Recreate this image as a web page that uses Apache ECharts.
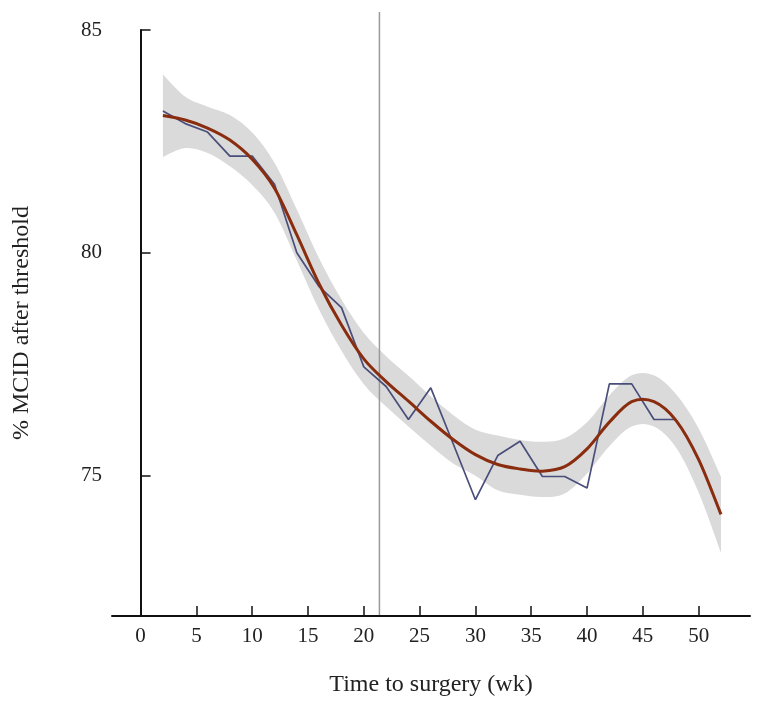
<!DOCTYPE html>
<html>
<head>
<meta charset="utf-8">
<title>% MCID after threshold</title>
<script src="https://cdn.jsdelivr.net/npm/echarts@6/dist/echarts.min.js"></script>
<style>
    html, body {margin: 0; padding: 0; background: #fff;}
    #main {width: 764px; height: 707px;}
</style>
</head>
<body>
<div id="main"></div>
<script>
// observed % MCID, every 2 weeks
var weeks = [2, 4, 6, 8, 10, 12, 14, 16, 18, 20, 22, 24, 26, 28, 30, 32, 34, 36, 38, 40, 42, 44, 46, 48];
var mcid = [83.18, 82.9, 82.71, 82.17, 82.17, 81.54, 80.0, 79.24, 78.77, 77.44, 77.0, 76.26,
    76.97, 75.72, 74.46, 75.45, 75.77, 74.98, 74.98, 74.72, 77.06, 77.06, 76.26, 76.26];

// fitted curve + confidence band
var fitWeeks = [2, 4, 6, 8, 10, 12, 14, 16, 18, 20, 22, 24, 26, 28, 30, 32, 34, 36, 38, 40, 42, 44, 46, 48, 50, 52];
var fit = [83.08, 82.98, 82.8, 82.53, 82.1, 81.45, 80.4, 79.3, 78.38, 77.62, 77.11, 76.67, 76.22,
    75.81, 75.47, 75.25, 75.15, 75.1, 75.2, 75.6, 76.2, 76.66, 76.66, 76.23, 75.36, 74.13];
var bandLow = [82.15, 82.35, 82.24, 81.94, 81.52, 80.9, 79.83, 78.72, 77.8, 77.05, 76.55, 76.1, 75.67,
    75.27, 75.0, 74.67, 74.57, 74.52, 74.6, 75.05, 75.66, 76.1, 76.1, 75.62, 74.62, 73.27];
var bandHigh = [84.0, 83.5, 83.28, 83.09, 82.7, 82.02, 80.97, 79.87, 78.95, 78.2, 77.68, 77.24, 76.78,
    76.36, 76.03, 75.9, 75.8, 75.76, 75.84, 76.2, 76.8, 77.25, 77.25, 76.82, 76.06, 74.98];

var surgeryLine = 21.4;
var xTicks = [0, 5, 10, 15, 20, 25, 30, 35, 40, 45, 50];
var yTicks = [75, 80, 85];

var font = '"Liberation Serif", "DejaVu Serif", serif';

function pairs(xs, ys) {
    var out = [];
    for (var i = 0; i < xs.length; i++) {
        out.push([xs[i], ys[i]]);
    }
    return out;
}

// catmull-rom through pixel points -> bezier path pieces
function curveThrough(p) {
    var d = '';
    for (var i = 0; i < p.length - 1; i++) {
        var p0 = p[i - 1] || p[i], p1 = p[i], p2 = p[i + 1], p3 = p[i + 2] || p2;
        var c1 = [p1[0] + (p2[0] - p0[0]) / 6, p1[1] + (p2[1] - p0[1]) / 6];
        var c2 = [p2[0] - (p3[0] - p1[0]) / 6, p2[1] - (p3[1] - p1[1]) / 6];
        d += ' C' + c1[0] + ',' + c1[1] + ' ' + c2[0] + ',' + c2[1] + ' ' + p2[0] + ',' + p2[1];
    }
    return d;
}

function renderBand(params, api) {
    var up = [], low = [];
    for (var i = 0; i < fitWeeks.length; i++) {
        up.push(api.coord([fitWeeks[i], bandHigh[i]]));
        low.unshift(api.coord([fitWeeks[i], bandLow[i]]));
    }
    var d = 'M' + up[0][0] + ',' + up[0][1] + curveThrough(up)
        + ' L' + low[0][0] + ',' + low[0][1] + curveThrough(low) + ' Z';
    return {
        type: 'path',
        shape: {pathData: d},
        style: {fill: '#dadada'}
    };
}

function renderFit(params, api) {
    var pts = [];
    for (var i = 0; i < fitWeeks.length; i++) {
        pts.push(api.coord([fitWeeks[i], fit[i]]));
    }
    return {
        type: 'path',
        shape: {pathData: 'M' + pts[0][0] + ',' + pts[0][1] + curveThrough(pts)},
        style: {fill: null, stroke: '#8a2c0e', lineWidth: 3, lineJoin: 'round'}
    };
}

var chart = echarts.init(document.getElementById('main'));
chart.setOption({
    animation: false,
    grid: [
        {left: 112, right: 14, top: 30, bottom: 91, outerBoundsMode: 'none'},
        {left: 112, right: 14, top: 12, bottom: 91, outerBoundsMode: 'none'}   // only for the vertical line
    ],
    xAxis: [{
        type: 'value',
        gridIndex: 0,
        min: -2.56,
        max: 54.6,
        z: 10,
        name: 'Time to surgery (wk)',
        nameLocation: 'middle',
        nameGap: 57,
        nameTextStyle: {fontFamily: font, fontSize: 24, color: '#222'},
        splitLine: {show: false},
        axisLine: {lineStyle: {color: '#111', width: 2}},
        axisTick: {inside: true, length: 10, customValues: xTicks, lineStyle: {color: '#111', width: 1.5}},
        axisLabel: {customValues: xTicks, margin: 10, fontFamily: font, fontSize: 21, color: '#222'}
    }, {
        type: 'value',
        gridIndex: 1,
        min: -2.56,
        max: 54.6,
        show: false
    }],
    yAxis: [{
        type: 'value',
        gridIndex: 0,
        min: 71.85,
        max: 85,
        z: 10,
        name: '% MCID after threshold',
        nameLocation: 'middle',
        nameRotate: 90,
        nameGap: 78,
        nameTextStyle: {fontFamily: font, fontSize: 24, color: '#222'},
        splitLine: {show: false},
        axisLine: {show: true, lineStyle: {color: '#111', width: 2}},
        axisTick: {inside: true, length: 10, customValues: yTicks, lineStyle: {color: '#111', width: 1.5}},
        axisLabel: {customValues: yTicks, margin: 10, fontFamily: font, fontSize: 21, color: '#222'}
    }, {
        type: 'value',
        gridIndex: 1,
        min: 0,
        max: 1,
        show: false
    }],
    series: [
        {
            type: 'custom',
            renderItem: renderBand,
            data: [[fitWeeks[0], bandLow[0]]],
            z: 1
        },
        {
            type: 'line',
            xAxisIndex: 1,
            yAxisIndex: 1,
            data: [[surgeryLine, 0], [surgeryLine, 1]],
            symbol: 'none',
            lineStyle: {color: '#9a9a9a', width: 1.5},
            z: 2
        },
        {
            type: 'line',
            data: pairs(weeks, mcid),
            symbol: 'none',
            lineStyle: {color: '#4a4e7a', width: 1.7},
            z: 3
        },
        {
            type: 'custom',
            renderItem: renderFit,
            data: [[fitWeeks[0], fit[0]]],
            z: 4
        }
    ]
});
</script>
</body>
</html>
